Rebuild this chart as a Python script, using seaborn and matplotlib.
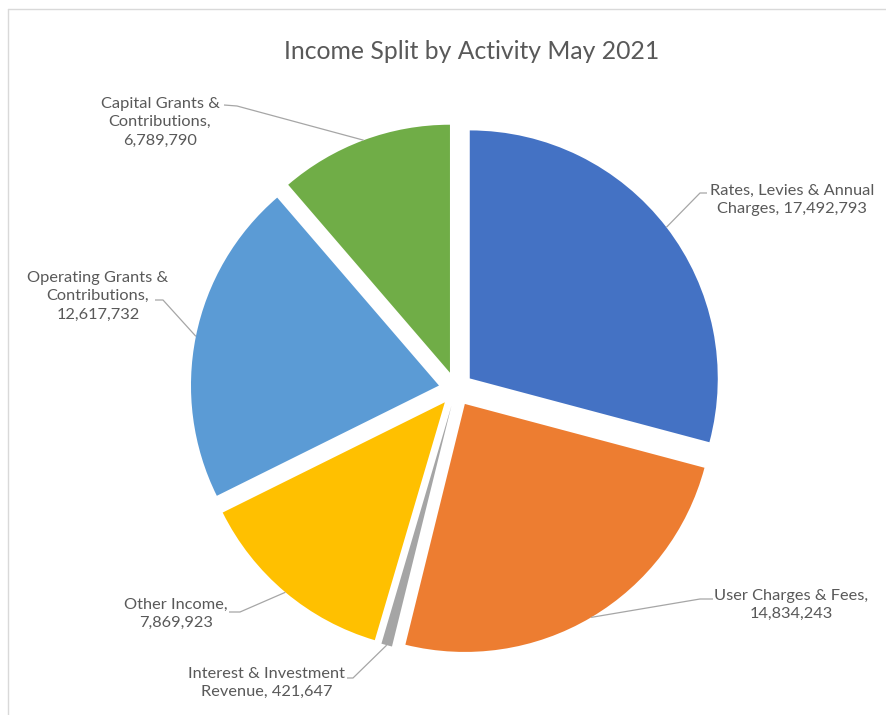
import matplotlib
matplotlib.use("Agg")
import matplotlib.pyplot as plt
import numpy as np
import seaborn as sns
from matplotlib.lines import Line2D

sns.set_theme(style="white")
plt.rcParams["font.family"] = ["Lato", "DejaVu Sans"]

# Income by activity
categories = [
    "Rates, Levies & Annual\nCharges",
    "User Charges & Fees,\n",
    "Interest & Investment\nRevenue",
    "Other Income,\n",
    "Operating Grants &\nContributions,\n",
    "Capital Grants &\nContributions,\n",
]
values = [17492793, 14834243, 421647, 7869923, 12617732, 6789790]
colors = sns.color_palette(["#4472C4", "#ED7D31", "#A5A5A5", "#FFC000", "#5B9BD5", "#70AD47"])
title = "Income Split by Activity May 2021"

# Layout (pixel positions on the 887x715 canvas)
W, H = 887, 715
CX, CY, R = 456, 389, 248
label_xy = [(792, 200), (791, 605), (267, 683), (176, 614), (98, 296), (160, 122)]
leader_anchor = [(707, 193), (713, 599), (347, 678), (229, 612), (155, 300), (224, 105)]
leader_elbow = [(700, 193), (700, 599), (353, 678), (240, 612), (163, 300), (237, 106)]


def px(x, y):
    return ((x - CX) / R, (CY - y) / R)


def label_text(cat, val):
    if cat.endswith("\n"):
        return f"{cat}{val:,}"
    return f"{cat}, {val:,}"


fig = plt.figure(figsize=(W / 100, H / 100), dpi=100)
ax = fig.add_axes([0, 0, 1, 1])

wedges, _ = ax.pie(
    values,
    colors=colors,
    explode=[0.07] * len(values),
    startangle=90,
    counterclock=False,
    radius=1,
    center=(0, 0),
    wedgeprops=dict(linewidth=0),
)

for w, cat, val, lxy, anc, elb in zip(wedges, categories, values, label_xy, leader_anchor, leader_elbow):
    mid = np.deg2rad((w.theta1 + w.theta2) / 2)
    ex = w.center[0] + w.r * np.cos(mid)
    ey = w.center[1] + w.r * np.sin(mid)
    a = px(*anc)
    e = px(*elb)
    ax.plot([a[0], e[0], ex], [a[1], e[1], ey], color="#A6A6A6", lw=0.9, solid_capstyle="butt")
    tx, ty = px(*lxy)
    ax.text(tx, ty, label_text(cat, val), ha="center", va="center",
            fontsize=11.8, color="#595959", linespacing=1.4)

x0, y0 = px(0, H)
x1, y1 = px(W, 0)
ax.set_xlim(x0, x1)
ax.set_ylim(y0, y1)
ax.set_aspect("equal")
ax.axis("off")

tx, ty = px(472, 52)
ax.text(tx, ty, title, ha="center", va="center", fontsize=17.8, color="#595959")

# chart frame
fig.add_artist(Line2D([8 / W, 8 / W], [0, 1 - 9 / H], transform=fig.transFigure, color="#D9D9D9", lw=1))
fig.add_artist(Line2D([8 / W, 1], [1 - 9 / H, 1 - 9 / H], transform=fig.transFigure, color="#D9D9D9", lw=1))

fig.savefig("out.png", dpi=100, facecolor="white")
